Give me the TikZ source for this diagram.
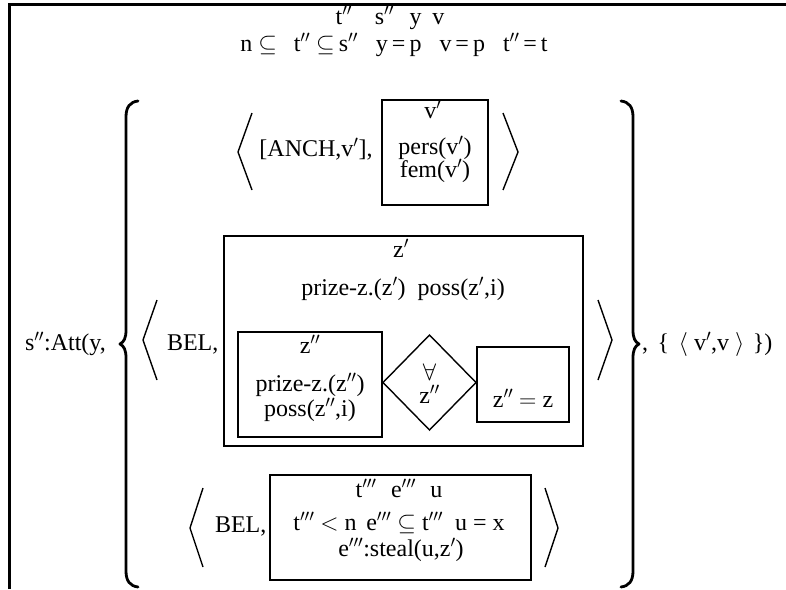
\RequirePackage{fix-cm}
\documentclass[tikz,border=0pt]{standalone}
\usepackage{fontspec}
\setmainfont{Liberation Serif}
\usetikzlibrary{shapes.geometric}
\begin{document}
\begin{tikzpicture}[x=1pt,y=-1pt,
  every node/.style={inner sep=0pt, outer sep=0pt, font=\fontsize{24}{28}\selectfont},
  txt/.style={anchor=base},
  txtw/.style={anchor=base west},
  boxline/.style={draw, line width=2pt},
  frameline/.style={line width=3pt},
  angl/.style={line width=1.4pt, line join=miter},
  bigbrace/.style={line width=2.8pt, line cap=round, line join=round}]
\useasboundingbox (0,0) rectangle (786,589);
% outer frame
\draw[frameline] (9,589) -- (9,4) -- (786,4);
% universe and conditions
\node[txt] (univ) at (390,24) {t$''$\hspace{0.95em}s$''$\hspace{0.65em}y\hspace{0.45em}v};
\node[txt] (cond) at (394,51) {n $\subseteq$\hspace{0.7em}t$''$ $\subseteq$\,s$''$\hspace{0.75em}y\,=\,p\hspace{0.75em}v\,=\,p\hspace{0.75em}t$''$\,=\,t};
% left text
\node[txtw] (att) at (25,350) {s$''$:Att(y,};
% big braces
\draw[bigbrace] (138,101) .. controls (130,102) and (126,107) .. (126,117) -- (126,330) .. controls (126,338) and (124,342) .. (120,344) .. controls (124,346) and (126,350) .. (126,358) -- (126,571) .. controls (126,581) and (130,586) .. (138,587);
\draw[bigbrace] (621,101) .. controls (629,102) and (633,107) .. (633,117) -- (633,330) .. controls (633,338) and (635,342) .. (639,344) .. controls (635,346) and (633,350) .. (633,358) -- (633,571) .. controls (633,581) and (629,586) .. (621,587);
\node[txtw] (tail) at (642,350) {,\hspace{0.4em}\{\hspace{0.4em}$\langle$\hspace{0.25em}v$'$,v\hspace{0.25em}$\rangle$\hspace{0.35em}\})};
% row 1
\draw[angl] (252,113) -- (238,152) -- (252,190);
\node[txt] (anch) at (316,156) {[ANCH,v$'$],};
\node[boxline, minimum width=106pt, minimum height=105pt] (box1) at (435,152.5) {};
\node[txt] (v1) at (433,118) {v$'$};
\node[txt] (pers) at (435,154) {pers(v$'$)};
\node[txt] (fem) at (435,177) {fem(v$'$)};
\draw[angl] (503,113) -- (518,152) -- (503,190);
% row 2
\draw[angl] (157,300) -- (143,340) -- (157,380);
\node[txtw] (bel2) at (167,350) {BEL,};
\node[boxline, minimum width=359pt, minimum height=210pt] (box2) at (403.5,341) {};
\node[txt] (z1) at (401,257) {z$'$};
\node[txt] (prize1) at (403,295) {prize-z.(z$'$)\hspace{0.5em}poss(z$'$,i)};
\node[boxline, minimum width=144pt, minimum height=105pt] (box3) at (310,384.5) {};
\node[txt] (z2) at (310,353) {z$''$};
\node[txt] (prize2) at (310,391) {prize-z.(z$''$)};
\node[txt] (poss2) at (310,416) {poss(z$''$,i)};
\node[draw, diamond, line width=1.4pt, minimum width=93pt, minimum height=95pt] (dia) at (429.5,382.5) {};
\node[txt] (forall) at (429.5,380) {$\forall$};
\node[txt] (z3) at (429.5,403) {z$''$};
\node[boxline, minimum width=92pt, minimum height=75pt] (box4) at (523,384.5) {};
\node[txt] (zeq) at (523,407) {z$''$ $=$ z};
\draw[angl] (598,300) -- (612,340) -- (598,380);
% row 3
\draw[angl] (203,488) -- (190,528) -- (203,567);
\node[txtw] (bel3) at (215,532) {BEL,};
\node[boxline, minimum width=261pt, minimum height=105pt] (box5) at (400.5,527.5) {};
\node[txt] (univ3) at (399,497) {t$'''$\hspace{0.6em}e$'''$\hspace{0.6em}u};
\node[txt] (cond3) at (399,530) {t$'''$ $<$ n\hspace{0.4em}e$'''$ $\subseteq$ t$'''$\hspace{0.5em}u = x};
\node[txt] (steal) at (401,556) {e$'''$:steal(u,z$'$)};
\draw[angl] (545,488) -- (558,528) -- (545,567);
\end{tikzpicture}
\end{document}
